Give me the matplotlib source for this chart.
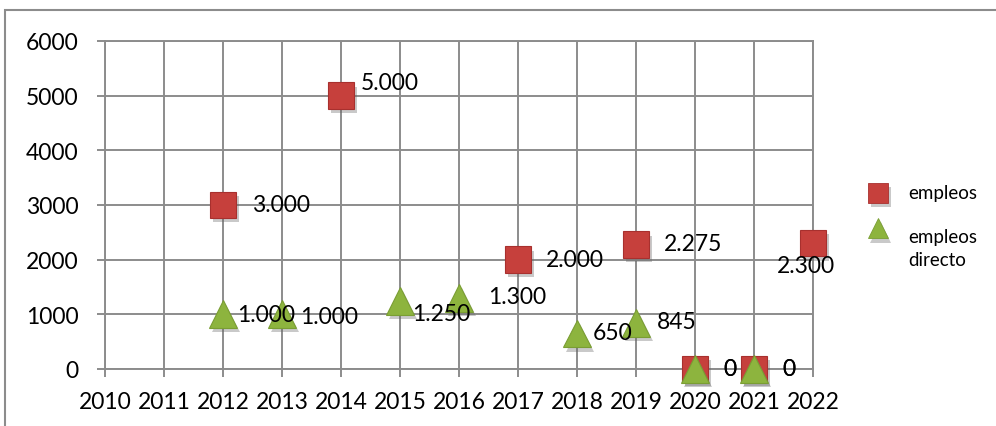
import matplotlib.pyplot as plt
import matplotlib.patheffects as pe
from matplotlib.patches import Rectangle
from matplotlib.lines import Line2D

# Data
years = list(range(2010, 2023))
emp_years = [2012, 2014, 2017, 2019, 2020, 2021, 2022]
emp_values = [3000, 5000, 2000, 2275, 0, 0, 2300]
emp_labels = ['3.000', '5.000', '2.000', '2.275', '0', '0', '2.300']
dir_years = [2012, 2013, 2015, 2016, 2018, 2019, 2020, 2021]
dir_values = [1000, 1000, 1250, 1300, 650, 845, 0, 0]
dir_labels = ['1.000', '1.000', '1.250', '1.300', '650', '845', '0', '0']
series_names = ['empleos', 'empleos\ndirecto']

# label offsets (pixels from marker centre, text left edge / vertical centre)
emp_offsets = [(29, 0), (20, 13), (28, 0), (28, 1), (28, 0), (28, 0), (-36, -22)]
dir_offsets = [(14, 0), (18, -2), (12, -13), (29, 1), (16, 1), (21, 1), (28, 0), (28, 0)]

plt.rcParams['font.family'] = ['Lato', 'DejaVu Sans']

W, H = 996, 427
fig = plt.figure(figsize=(W / 100, H / 100), dpi=100)
ax = fig.add_axes([105 / W, 1 - 370 / H, (813 - 105) / W, (370 - 42) / H])

grid_c = '#8c8c8c'
red_face, red_edge = '#C6403C', '#A8302E'
green_face, green_edge = '#8DB43E', '#7A9E33'

ax.set_xlim(2010, 2022)
ax.set_ylim(0, 6000)
ax.set_xticks(years)
ax.set_yticks(range(0, 6001, 1000))
ax.grid(True, color=grid_c, linewidth=1.4)
ax.set_axisbelow(True)
for s in ax.spines.values():
    s.set_color(grid_c)
    s.set_linewidth(1.4)
ax.tick_params(axis='both', colors=grid_c, length=6, width=1.4, labelcolor='black', labelsize=16.5)
ax.tick_params(axis='y', pad=13)
ax.tick_params(axis='x', pad=10)

shadow = [pe.SimplePatchShadow(offset=(2, -3), shadow_rgbFace='#666666', alpha=0.35), pe.Normal()]

ax.plot(emp_years, emp_values, linestyle='none', marker='s', markersize=19,
        markerfacecolor=red_face, markeredgecolor=red_edge, markeredgewidth=0.8,
        clip_on=False, zorder=3, path_effects=shadow)
ax.plot(dir_years, dir_values, linestyle='none', marker='^', markersize=20,
        markerfacecolor=green_face, markeredgecolor=green_edge, markeredgewidth=0.8,
        clip_on=False, zorder=4, path_effects=shadow)

for x, y, t, off in zip(emp_years, emp_values, emp_labels, emp_offsets):
    ax.annotate(t, (x, y), xytext=off, textcoords='offset pixels',
                ha='left', va='center', fontsize=16.5, zorder=5, annotation_clip=False)
for x, y, t, off in zip(dir_years, dir_values, dir_labels, dir_offsets):
    ax.annotate(t, (x, y), xytext=off, textcoords='offset pixels',
                ha='left', va='center', fontsize=16.5, zorder=5, annotation_clip=False)

# legend drawn by hand (Excel puts the marker beside the first text line)
leg_items = [('s', 14, red_face, red_edge, 194, 194),
             ('^', 15, green_face, green_edge, 229, 249)]
for (mk, ms, fc, ec, my, ty), name in zip(leg_items, series_names):
    fig.add_artist(Line2D([878 / W], [1 - my / H], transform=fig.transFigure,
                          linestyle='none', marker=mk, markersize=ms,
                          markerfacecolor=fc, markeredgecolor=ec, markeredgewidth=0.6,
                          path_effects=shadow))
    fig.text(908 / W, 1 - ty / H, name, fontsize=13.5, ha='left', va='center',
             linespacing=1.45, transform=fig.transFigure)

# outer chart border
fig.add_artist(Rectangle((5 / W, -0.1), 1.2, 1 - 11 / H + 0.1, transform=fig.transFigure,
                         fill=False, edgecolor='#8c8c8c', linewidth=1.5))

fig.savefig('out.png', dpi=100)
